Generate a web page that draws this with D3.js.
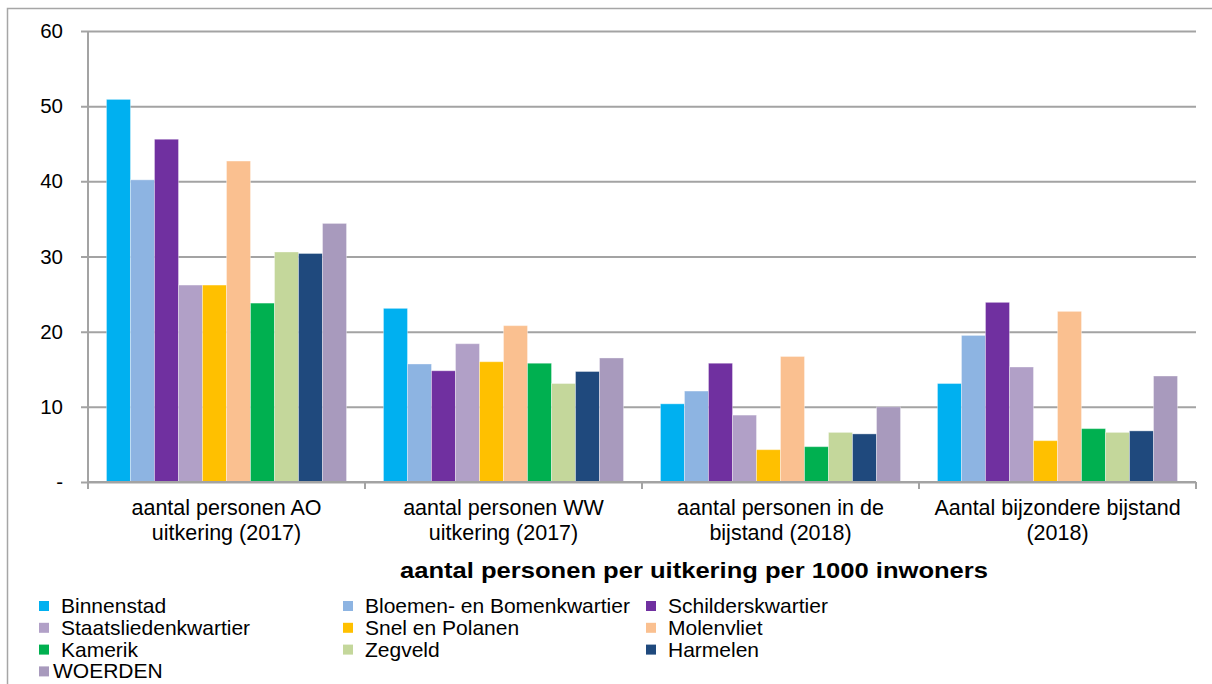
<!DOCTYPE html>
<html>
<head>
<meta charset="utf-8">
<script src="https://cdn.jsdelivr.net/npm/d3@7"></script>
<style>
  html, body { margin: 0; padding: 0; background: #fff; }
  svg { display: block; font-family: "Liberation Sans", Arial, sans-serif; }
</style>
</head>
<body>
<svg id="chart" width="1212" height="684"></svg>
<script>
// ---- data ----
const categories = ["AO", "WW", "bijstand", "bijzondere"];
const categoryLabels = [
  ["aantal personen AO", "uitkering (2017)"],
  ["aantal personen WW", "uitkering (2017)"],
  ["aantal personen in de", "bijstand (2018)"],
  ["Aantal bijzondere bijstand", "(2018)"]
];
const seriesNames = ["Binnenstad", "Bloemen- en Bomenkwartier", "Schilderskwartier",
  "Staatsliedenkwartier", "Snel en Polanen", "Molenvliet", "Kamerik", "Zegveld",
  "Harmelen", "WOERDEN"];
const seriesColors = ["#00B0F0", "#8DB4E2", "#7030A0", "#B1A0C7", "#FFC000",
  "#FAC090", "#00B050", "#C4D79B", "#1F497D", "#A89ABD"];
const binnenstad   = [50.9, 23.1, 10.4, 13.1];
const bloemen      = [40.2, 15.7, 12.1, 19.5];
const schilders    = [45.6, 14.8, 15.8, 23.9];
const staatslieden = [26.2, 18.4, 8.9, 15.3];
const snel         = [26.2, 16.0, 4.3, 5.5];
const molenvliet   = [42.7, 20.8, 16.7, 22.7];
const kamerik      = [23.8, 15.8, 4.7, 7.1];
const zegveld      = [30.6, 13.1, 6.6, 6.6];
const harmelen     = [30.4, 14.7, 6.4, 6.8];
const woerden      = [34.4, 16.5, 10.0, 14.1];
const seriesValues = [binnenstad, bloemen, schilders, staatslieden, snel,
  molenvliet, kamerik, zegveld, harmelen, woerden];
const yTicks = [0, 10, 20, 30, 40, 50, 60];
const yTickLabels = ["-", "10", "20", "30", "40", "50", "60"];
const xTitle = "aantal personen per uitkering per 1000 inwoners";

// ---- layout ----
const svg = d3.select("#chart");
const mLeft = 88, mRight = 1196, mTop = 31, mBottom = 482;
const gridColor = "#a3a3a3";

// outer border (top & left visible)
svg.append("path")
  .attr("d", "M7.5,684 L7.5,8.5 L1212,8.5")
  .attr("fill", "none").attr("stroke", "#a6a6a6").attr("stroke-width", 1.5);

const y = d3.scaleLinear().domain([0, 60]).range([mBottom, mTop]);
const x0 = d3.scaleBand().domain(categories).range([mLeft, mRight]).padding(0);
const bw = x0.bandwidth();
const x1 = d3.scaleBand().domain(seriesNames)
  .range([bw * 0.0667, bw * 0.9333]).padding(0);

// gridlines + y axis ticks
const yAxis = d3.axisLeft(y).tickValues(yTicks)
  .tickSize(-(mRight - mLeft))
  .tickFormat((d, i) => yTickLabels[i]);
const gy = svg.append("g").attr("transform", `translate(${mLeft},0)`).call(yAxis);
gy.select(".domain").remove();
gy.selectAll(".tick line").attr("stroke", gridColor).attr("stroke-width", 2)
  .attr("x1", -7);
gy.selectAll(".tick text").attr("x", -25).attr("fill", "#000")
  .attr("font-size", 20.5).attr("font-family", "Liberation Sans, Arial, sans-serif");

// y axis line
svg.append("line").attr("x1", mLeft).attr("x2", mLeft)
  .attr("y1", y(60)).attr("y2", y(0))
  .attr("stroke", gridColor).attr("stroke-width", 2);

// bars
const groups = svg.append("g").selectAll("g").data(categories).join("g")
  .attr("transform", d => `translate(${x0(d)},0)`);
groups.selectAll("rect")
  .data((c, ci) => seriesNames.map((s, si) => ({ s, si, v: seriesValues[si][ci] })))
  .join("rect")
  .attr("x", d => x1(d.s))
  .attr("width", x1.bandwidth())
  .attr("y", d => y(d.v))
  .attr("height", d => y(0) - y(d.v))
  .attr("fill", d => seriesColors[d.si])
  .attr("stroke", "#fff").attr("stroke-opacity", 0.35).attr("stroke-width", 1);

// x axis
const xAxis = d3.axisBottom(x0).tickSize(0).tickFormat("");
const gx = svg.append("g").attr("transform", `translate(0,${mBottom})`).call(xAxis);
gx.select(".domain").attr("stroke", gridColor).attr("stroke-width", 2)
  .attr("d", `M${mLeft},0H${mRight}`);
const bounds = categories.map(c => x0(c)).concat([mRight]);
gx.selectAll(".bound").data(bounds).join("line")
  .attr("x1", d => d).attr("x2", d => d).attr("y1", 0).attr("y2", 7)
  .attr("stroke", gridColor).attr("stroke-width", 2);

// category labels
const labG = svg.append("g").selectAll("text").data(categories).join("text")
  .attr("text-anchor", "middle")
  .attr("font-size", 21.5).attr("fill", "#000")
  .attr("transform", d => `translate(${x0(d) + bw / 2},0)`);
labG.selectAll("tspan").data((d, i) => categoryLabels[i]).join("tspan")
  .attr("x", 0).attr("y", (d, i) => 515 + i * 24.5).text(d => d);

// x title
svg.append("text").attr("x", 694).attr("y", 578)
  .attr("text-anchor", "middle").attr("font-weight", "bold")
  .attr("font-size", 22.5).attr("fill", "#000")
  .attr("textLength", 588).attr("lengthAdjust", "spacingAndGlyphs")
  .text(xTitle);

// legend
const colX = [39, 343, 646];
const legend = svg.append("g").selectAll("g").data(seriesNames).join("g")
  .attr("transform", (d, i) => `translate(${colX[i % 3]},${606 + Math.floor(i / 3) * 21.8})`);
legend.append("rect").attr("x", 0).attr("y", -5).attr("width", 10).attr("height", 10)
  .attr("fill", (d, i) => seriesColors[i]);
legend.append("text")
  .attr("x", (d, i) => i === 9 ? 14 : 22)
  .attr("y", 7).attr("font-size", 21).attr("fill", "#000").text(d => d);
</script>
</body>
</html>
